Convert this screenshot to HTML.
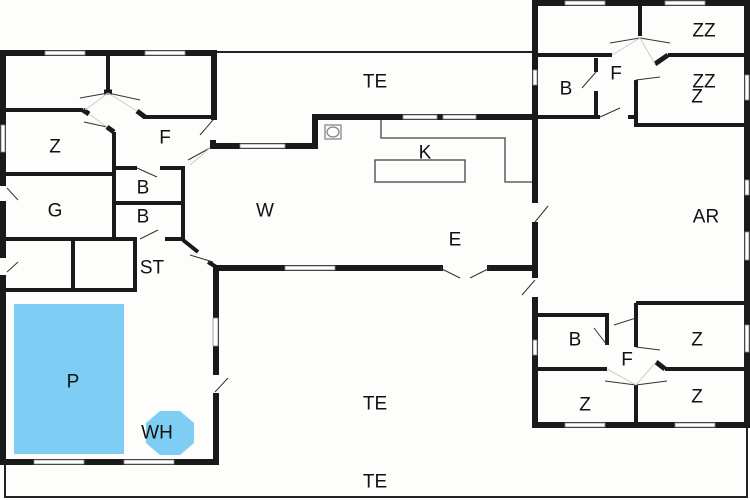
<!DOCTYPE html>
<html><head><meta charset="utf-8"><style>
html,body{margin:0;padding:0;background:#fdfdfb;}
svg{display:block}
text{font-family:"Liberation Sans",sans-serif;font-size:19px;fill:#111;text-anchor:middle;dominant-baseline:central}
</style></head><body>
<svg width="750" height="500" viewBox="0 0 750 500">
<rect width="750" height="500" fill="#fdfdfb"/>
<g stroke="#222" stroke-width="2" fill="none">
<path d="M217 52 H533"/>
<path d="M5 463 V497 H747 V428"/>
</g>
<rect x="14" y="304" width="110" height="150" fill="#7dcdf5"/>
<polygon points="160,411 180,411 194,423 194,443 180,455 160,455 146,443 146,423" fill="#7dcdf5"/>
<g stroke="#1a1a1a" stroke-width="6" fill="none" stroke-linecap="square">
<path d="M3 53 H214 V118"/>
<path d="M3 53 V462 H216 V270"/>
<path d="M213 142 V146 H315 V117 H535"/>
<path d="M216 268 H440"/><path d="M490 268 H535"/>
<path d="M535 3 V298"/><path d="M535 300 V425"/>
<path d="M535 3 H747 V425 H535"/>
</g>
<g stroke="#1a1a1a" stroke-width="4" fill="none">
<path d="M3 110 H83"/><path d="M83 110 L89 114" stroke-width="5"/>
<path d="M108 53 V90"/><path d="M104 92 L112 92" stroke-width="5"/>
<path d="M143 117 H213"/><path d="M137 111 L145 117" stroke-width="5"/>
<path d="M114 132 V239"/><path d="M107 127 L114 132" stroke-width="5"/>
<path d="M3 174 H114"/>
<path d="M114 168 H137"/><path d="M160 168 H183 V240"/>
<path d="M114 203 H183"/>
<path d="M3 239 H137"/><path d="M165 239 H183"/>
<path d="M73 239 V290"/><path d="M3 290 H135 V239"/>
<path d="M183 240 L198 252"/><path d="M208 262 L218 268"/>
<path d="M538 55 H612"/><path d="M668 55 H747"/>
<path d="M655 64 L668 55" stroke-width="5"/>
<path d="M640 3 V36"/>
<path d="M596 58 V72"/><path d="M596 91 V117"/>
<path d="M535 117 H600"/><path d="M628 117 H638"/>
<path d="M636 80 V125 H747"/>
<path d="M636 303 H747"/><path d="M535 315 H607 V345"/>
<path d="M636 303 V347"/>
<path d="M538 369 H607"/><path d="M665 369 H747"/>
<path d="M656 362 L665 369" stroke-width="5"/>
<path d="M636 385 V425"/>
</g>
<g fill="#fff" stroke="#888" stroke-width="0.8">
<rect x="45" y="51" width="40" height="4"/><rect x="145" y="51" width="40" height="4"/>
<rect x="1" y="125" width="4" height="27"/>
<rect x="240" y="144" width="45" height="4"/>
<rect x="403" y="115" width="34" height="4"/><rect x="443" y="115" width="33" height="4"/>
<rect x="285" y="266" width="50" height="4"/>
<rect x="213" y="318" width="5" height="28"/>
<rect x="34" y="460" width="50" height="4"/><rect x="124" y="460" width="50" height="4"/>
<rect x="565" y="1" width="40" height="4"/><rect x="665" y="1" width="40" height="4"/>
<rect x="745" y="75" width="4" height="25"/>
<rect x="745" y="180" width="4" height="15"/><rect x="745" y="232" width="4" height="28"/>
<rect x="533" y="70" width="4" height="15"/>
<rect x="533" y="340" width="4" height="15"/>
<rect x="745" y="325" width="4" height="27"/>
<rect x="565" y="423" width="40" height="4"/><rect x="675" y="423" width="40" height="4"/>
</g>
<g fill="#fdfdfb">
<rect x="0" y="186" width="7" height="15"/><rect x="0" y="258" width="7" height="17"/>
<rect x="212" y="375" width="7" height="18"/>
<rect x="532" y="203" width="7" height="19"/><rect x="532" y="278" width="7" height="19"/>
<rect x="210" y="120" width="8" height="20"/>
</g>
<g stroke="#333" stroke-width="1" fill="none">
<path d="M7 188 L18 200"/><path d="M7 272 L18 262"/>
<path d="M215 392 L228 378"/><path d="M535 222 L548 206"/><path d="M535 280 L522 295"/>
<path d="M213 120 L200 135"/>
<path d="M108 93 L80 98"/><path d="M108 93 L140 100"/>
<path d="M107 127 L84 122"/>
<path d="M137 168 L157 177"/><path d="M140 239 L158 230"/>
<path d="M210 148 L188 160"/><path d="M213 262 L190 255"/>
<path d="M440 268 L460 278"/><path d="M490 268 L470 278"/>
<path d="M640 38 L610 43"/><path d="M640 38 L670 43"/>
<path d="M596 72 L582 88"/><path d="M600 117 L620 108"/>
<path d="M636 80 L660 77"/>
<path d="M607 345 L594 328"/><path d="M636 318 L614 325"/>
<path d="M636 347 L660 350"/>
<path d="M636 385 L605 381"/><path d="M636 385 L667 381"/>
</g>
<g stroke="#ccc" stroke-width="1" fill="none">
<path d="M108 93 L85 110"/><path d="M108 93 L137 111"/>
<path d="M89 114 L107 127"/>
<path d="M210 148 L190 165"/>
<path d="M640 38 L612 55"/><path d="M640 38 L655 64"/>
<path d="M636 385 L607 369"/><path d="M636 385 L656 362"/>
</g>
<g stroke="#444" stroke-width="1.3" fill="none">
<path d="M381 120 V138 H505 V182 H532"/>
<rect x="375" y="160" width="90" height="22"/>
<rect x="325" y="125" width="16" height="14" stroke="#888"/>
<ellipse cx="333" cy="132" rx="6" ry="5" stroke="#888"/>
</g>
<text x="375" y="82">TE</text>
<text x="165" y="138">F</text>
<text x="55" y="147">Z</text>
<text x="55" y="211">G</text>
<text x="143" y="188">B</text>
<text x="143" y="217">B</text>
<text x="152" y="268">ST</text>
<text x="265" y="211">W</text>
<text x="425" y="153">K</text>
<text x="455" y="240">E</text>
<text x="706" y="217">AR</text>
<text x="704" y="31">ZZ</text>
<text x="704" y="82">ZZ</text>
<text x="697" y="97">Z</text>
<text x="566" y="89">B</text>
<text x="616" y="74">F</text>
<text x="575" y="340">B</text>
<text x="627" y="360">F</text>
<text x="697" y="340">Z</text>
<text x="585" y="405">Z</text>
<text x="697" y="397">Z</text>
<text x="375" y="404">TE</text>
<text x="375" y="482">TE</text>
<text x="73" y="382">P</text>
<text x="157" y="433">WH</text>
</svg>
</body></html>
